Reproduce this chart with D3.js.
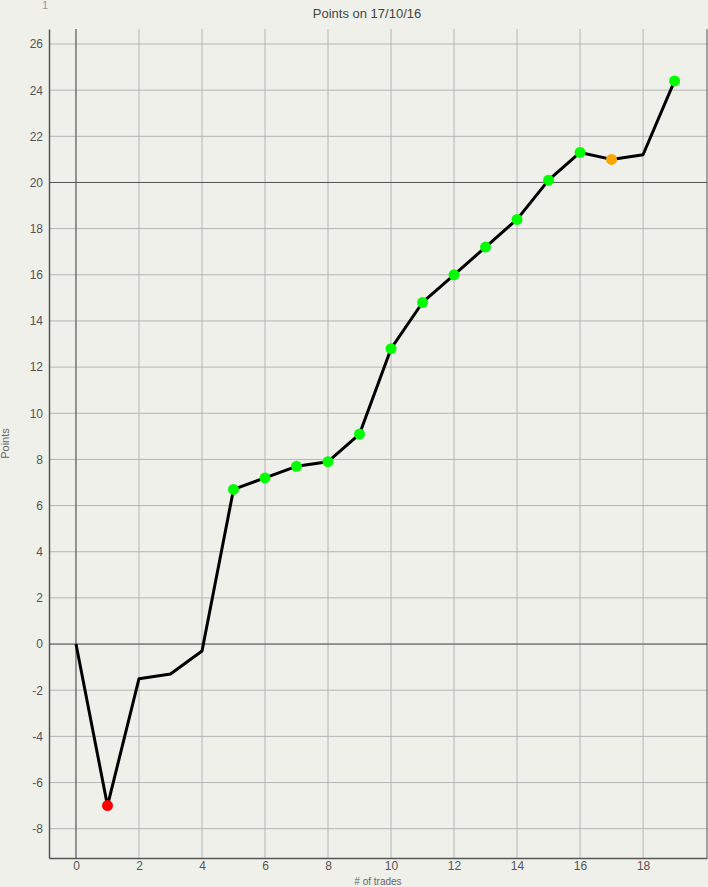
<!DOCTYPE html>
<html>
<head>
<meta charset="utf-8">
<script src="https://cdn.jsdelivr.net/npm/d3@7"></script>
<style>
  body { margin: 0; background: #f0f0eb; }
  svg { display: block; font-family: "Liberation Sans", Arial, sans-serif; }
  .tick text { fill: #555; font-size: 12px; }
</style>
</head>
<body>
<div id="chart"></div>
<script>
// trade index and running points total
const trades = [0, 1, 2, 3, 4, 5, 6, 7, 8, 9, 10, 11, 12, 13, 14, 15, 16, 17, 18, 19];
const points = [0, -7.0, -1.5, -1.3, -0.3, 6.7, 7.2, 7.7, 7.9, 9.1, 12.8, 14.8, 16.0, 17.2, 18.4, 20.1, 21.3, 21.0, 21.2, 24.4];
// marker colour per trade (null = no marker)
const markers = [null, 'red', null, null, null, 'lime', 'lime', 'lime', 'lime', 'lime', 'lime', 'lime', 'lime', 'lime', 'lime', 'lime', 'lime', 'orange', null, 'lime'];
const xTicks = [0, 2, 4, 6, 8, 10, 12, 14, 16, 18];
const yTicks = [-8, -6, -4, -2, 0, 2, 4, 6, 8, 10, 12, 14, 16, 18, 20, 22, 24, 26];
const refLines = [0, 20];

const width = 708, height = 887;
const margin = { top: 29, right: 1, bottom: 29, left: 49 };
const w = width - margin.left - margin.right;
const h = height - margin.top - margin.bottom;

const data = trades.map((t, i) => ({ trade: t, pts: points[i], color: markers[i] }));

const svg = d3.select('#chart').append('svg')
  .attr('width', width)
  .attr('height', height);

svg.append('text')
  .attr('x', 45).attr('y', 9)
  .attr('text-anchor', 'middle')
  .attr('fill', '#999').attr('font-size', 11)
  .text('1');

svg.append('text')
  .attr('x', 367).attr('y', 18)
  .attr('text-anchor', 'middle')
  .attr('fill', '#444').attr('font-size', 13)
  .text('Points on 17/10/16');

const g = svg.append('g').attr('transform', `translate(${margin.left},${margin.top})`);

const x = d3.scaleLinear().domain([-0.857, 20.03]).range([0, w]);
const y = d3.scaleLinear().domain([-9.27, 26.65]).range([h, 0]);

// grid
g.append('g').selectAll('line').data(xTicks).join('line')
  .attr('x1', d => x(d)).attr('x2', d => x(d))
  .attr('y1', 0).attr('y2', h)
  .attr('stroke', '#b4b4b4').attr('stroke-width', 1);
g.append('g').selectAll('line').data(yTicks).join('line')
  .attr('x1', 0).attr('x2', w)
  .attr('y1', d => y(d)).attr('y2', d => y(d))
  .attr('stroke', '#b4b4b4').attr('stroke-width', 1);

// darker reference lines
g.append('line')
  .attr('x1', x(0)).attr('x2', x(0)).attr('y1', 0).attr('y2', h)
  .attr('stroke', '#555');
g.append('g').selectAll('line').data(refLines).join('line')
  .attr('x1', 0).attr('x2', w)
  .attr('y1', d => y(d)).attr('y2', d => y(d))
  .attr('stroke', '#555');

// right border
g.append('line')
  .attr('x1', w).attr('x2', w).attr('y1', 0).attr('y2', h)
  .attr('stroke', '#555');

const xAxis = g.append('g')
  .attr('transform', `translate(0,${h})`)
  .call(d3.axisBottom(x).tickValues(xTicks).tickFormat(d => String(d)).tickSize(0).tickPadding(3));
xAxis.select('.domain').attr('stroke', '#555').attr('stroke-width', 1.5);

const yAxis = g.append('g')
  .call(d3.axisLeft(y).tickValues(yTicks).tickFormat(d => String(d)).tickSize(0).tickPadding(6));
yAxis.select('.domain').attr('stroke', '#555').attr('stroke-width', 1.5);

svg.append('text')
  .attr('transform', `translate(9,${margin.top + h / 2}) rotate(-90)`)
  .attr('text-anchor', 'middle')
  .attr('fill', '#666').attr('font-size', 11)
  .text('Points');

svg.append('text')
  .attr('x', margin.left + w / 2).attr('y', 885)
  .attr('text-anchor', 'middle')
  .attr('fill', '#666').attr('font-size', 10)
  .text('# of trades');

const line = d3.line()
  .x(d => x(d.trade))
  .y(d => y(d.pts));

g.append('path')
  .datum(data)
  .attr('fill', 'none')
  .attr('stroke', '#000')
  .attr('stroke-width', 3)
  .attr('stroke-linejoin', 'round')
  .attr('d', line);

g.append('g').selectAll('circle').data(data.filter(d => d.color)).join('circle')
  .attr('cx', d => x(d.trade))
  .attr('cy', d => y(d.pts))
  .attr('r', 5.5)
  .attr('fill', d => d.color);
</script>
</body>
</html>
